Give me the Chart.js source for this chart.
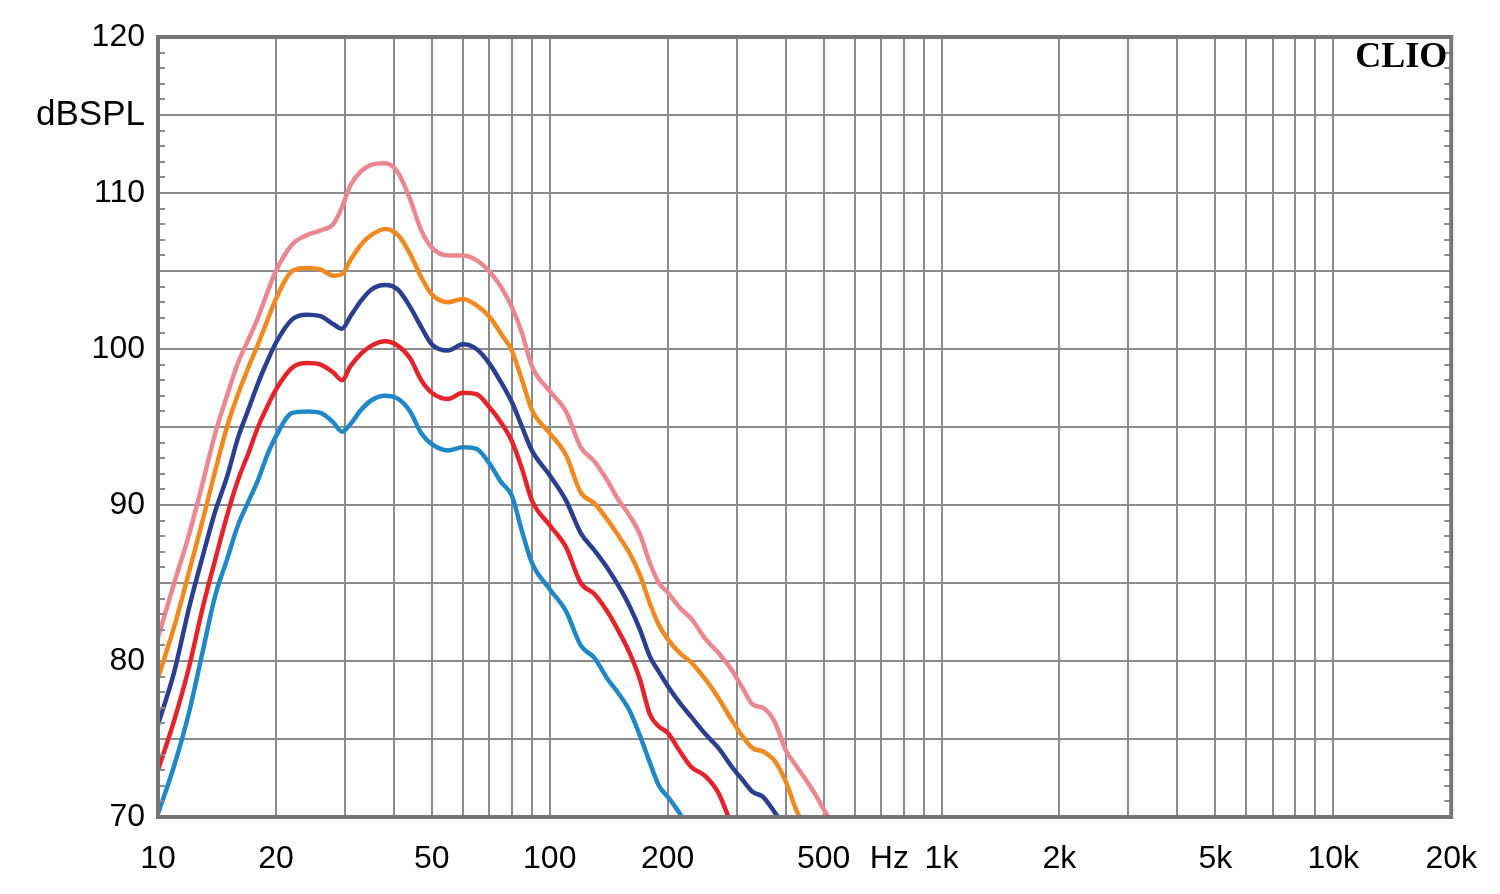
<!DOCTYPE html>
<html>
<head>
<meta charset="utf-8">
<script src="https://cdn.jsdelivr.net/npm/chart.js@4.4.1/dist/chart.umd.min.js"></script>
<style>
  html, body { margin: 0; padding: 0; background: #fff; }
  canvas { display: block; }
</style>
</head>
<body>
<canvas id="spl" width="1500" height="894"></canvas>
<script>
// frequencies (Hz) where the curves were read
const freqs = [10, 11, 12, 13, 14, 15, 16, 17, 18, 19, 20, 22, 24, 26, 28, 29.5, 31, 33, 35, 38, 41, 44, 47, 50,
    55, 60, 65, 70, 75, 80, 85, 90, 100, 110, 120, 130, 140, 150, 160, 170, 180, 190, 200, 215, 230, 250,
    270, 290, 310, 330, 350, 375, 400, 425, 450, 475, 500, 525];

// dBSPL, top curve to bottom curve
const pinkVals = [81.5, 85.0, 88.1, 91.4, 94.6, 97.0, 99.1, 100.6, 102.0, 103.6, 105.0, 106.7, 107.3, 107.6, 108.0, 109.1, 110.5, 111.4, 111.8, 111.9, 111.3, 109.6, 107.6, 106.5,
    106.0, 106.0, 105.7, 105.0, 104.0, 102.7, 101.0, 98.9, 97.3, 96.0, 93.7, 92.8, 91.6, 90.3, 89.3, 88.1, 86.3, 85.0, 84.4, 83.4, 82.7, 81.4,
    80.5, 79.5, 78.3, 77.2, 77.0, 76.1, 74.3, 73.3, 72.4, 71.5, 70.5, 69.6];
const orangeVals = [78.9, 82.2, 85.7, 89.0, 92.2, 95.0, 97.1, 98.8, 100.3, 101.8, 103.2, 105.0, 105.2, 105.1, 104.7, 104.8, 105.7, 106.7, 107.3, 107.7, 107.3, 106.1, 104.6, 103.5,
    103.0, 103.2, 102.8, 102.1, 101.0, 99.9, 98.0, 96.1, 94.6, 93.2, 90.8, 90.1, 89.1, 88.0, 86.9, 85.5, 83.7, 82.3, 81.4, 80.5, 79.9, 78.8,
    77.6, 76.3, 75.2, 74.4, 74.2, 73.6, 72.3, 70.5, 69.2, null, null, null];
const navyVals = [75.9, 79.3, 83.4, 86.7, 89.6, 91.8, 94.3, 96.1, 97.8, 99.2, 100.4, 101.9, 102.2, 102.1, 101.6, 101.3, 102.1, 103.1, 103.8, 104.1, 103.8, 102.7, 101.4, 100.3,
    99.9, 100.3, 100.0, 99.1, 97.9, 96.6, 95.0, 93.5, 91.9, 90.3, 88.2, 87.1, 86.0, 84.8, 83.5, 82.0, 80.3, 79.3, 78.4, 77.3, 76.4, 75.3,
    74.4, 73.3, 72.4, 71.6, 71.3, 70.3, 69.3, null, null, null, null, null];
const redVals = [73.0, 76.2, 79.6, 83.4, 86.5, 89.3, 91.6, 93.3, 95.0, 96.3, 97.4, 98.8, 99.1, 99.0, 98.5, 98.0, 98.9, 99.7, 100.2, 100.5, 100.2, 99.4, 98.0, 97.2,
    96.8, 97.2, 97.1, 96.3, 95.3, 94.1, 92.3, 90.3, 88.7, 87.3, 85.0, 84.3, 83.2, 81.9, 80.5, 78.8, 76.6, 75.8, 75.4, 74.2, 73.2, 72.6,
    71.5, 69.6, null, null, null, null, null, null, null, null, null, null];
const blueVals = [70.2, 73.3, 76.7, 80.6, 84.2, 86.5, 88.7, 90.2, 91.6, 93.2, 94.4, 95.9, 96.0, 95.9, 95.3, 94.7, 95.2, 96.1, 96.7, 97.0, 96.8, 96.0, 94.6, 93.9,
    93.5, 93.7, 93.6, 92.7, 91.5, 90.6, 88.3, 86.3, 84.6, 83.2, 81.0, 80.2, 78.9, 77.9, 76.8, 75.2, 73.5, 72.0, 71.3, 70.2, 69.0, null,
    null, null, null, null, null, null, null, null, null, null, null, null];

// axis ticks
const xGrid = [10, 20, 30, 40, 50, 60, 70, 80, 90, 100, 200, 300, 400, 500, 600, 700, 736, 800, 900,
    1000, 2000, 3000, 4000, 5000, 6000, 7000, 8000, 9000, 10000, 20000];
const xLabels = {10: '10', 20: '20', 50: '50', 100: '100', 200: '200', 500: '500', 736: 'Hz',
    1000: '1k', 2000: '2k', 5000: '5k', 10000: '10k', 20000: '20k'};
const yGrid = [70, 75, 80, 85, 90, 95, 100, 105, 110, 115, 120];
const yLabels = {70: '70', 80: '80', 90: '90', 100: '100', 110: '110', 115: 'dBSPL', 120: '120'};

const gridColor = '#8c8c8c';
const fontFamily = 'Liberation Sans, Arial, sans-serif';

function series(vals, color) {
    return {
        data: freqs.map((f, i) => ({ x: f, y: vals[i] })),
        borderColor: color,
        borderWidth: 4.5,
        pointRadius: 0,
        cubicInterpolationMode: 'monotone',
        spanGaps: false,
        fill: false
    };
}

const framePlugin = {
    id: 'frame',
    afterDraw(chart) {
        const ctx = chart.ctx;
        const a = chart.chartArea;
        const y = chart.scales.y;
        ctx.save();
        // small 1 dB ticks on both sides
        ctx.strokeStyle = gridColor;
        ctx.lineWidth = 2;
        for (let v = 71; v < 120; v++) {
            if (v % 5 === 0) continue;
            const py = Math.round(y.getPixelForValue(v));
            ctx.beginPath();
            ctx.moveTo(a.left, py); ctx.lineTo(a.left + 7, py);
            ctx.moveTo(a.right, py); ctx.lineTo(a.right - 7, py);
            ctx.stroke();
        }
        ctx.strokeStyle = '#777';
        ctx.lineWidth = 4;
        ctx.strokeRect(a.left, a.top, a.right - a.left, a.bottom - a.top);
        ctx.fillStyle = '#000';
        ctx.font = 'bold 36px "Liberation Serif", "DejaVu Serif", serif';
        ctx.textAlign = 'right';
        ctx.textBaseline = 'alphabetic';
        ctx.fillText('CLIO', a.right - 4, a.top + 30);
        ctx.restore();
    }
};

new Chart(document.getElementById('spl'), {
    type: 'line',
    data: {
        datasets: [
            series(pinkVals, '#ea8790'),
            series(orangeVals, '#f08a20'),
            series(navyVals, '#2a3f90'),
            series(redVals, '#e3242a'),
            series(blueVals, '#1f88c6')
        ]
    },
    options: {
        responsive: false,
        animation: false,
        devicePixelRatio: 1,
        layout: { padding: { top: 37, right: 48, left: 0, bottom: 0 } },
        plugins: { legend: { display: false }, tooltip: { enabled: false } },
        scales: {
            x: {
                type: 'logarithmic',
                min: 10,
                max: 20000,
                afterBuildTicks: (scale) => { scale.ticks = xGrid.map(v => ({ value: v })); },
                afterFit: (scale) => { scale.height = 77; },
                grid: {
                    color: (c) => (c.tick && c.tick.value === 736) ? 'rgba(0,0,0,0)' : gridColor,
                    lineWidth: 2,
                    drawTicks: false
                },
                border: { display: false },
                ticks: {
                    autoSkip: false,
                    maxRotation: 0,
                    padding: 23,
                    color: '#000',
                    font: { family: fontFamily, size: 32 },
                    callback: (v) => xLabels[v] || ''
                }
            },
            y: {
                type: 'linear',
                min: 70,
                max: 120,
                afterBuildTicks: (scale) => { scale.ticks = yGrid.map(v => ({ value: v })); },
                afterFit: (scale) => { scale.width = 158; },
                grid: { color: gridColor, lineWidth: 2, drawTicks: false },
                border: { display: false },
                ticks: {
                    autoSkip: false,
                    padding: 13,
                    color: '#000',
                    font: (c) => ({ family: fontFamily, size: (c.tick && c.tick.value === 115) ? 35 : 32 }),
                    callback: (v) => yLabels[v] || ''
                }
            }
        }
    },
    plugins: [framePlugin]
});
</script>
</body>
</html>
